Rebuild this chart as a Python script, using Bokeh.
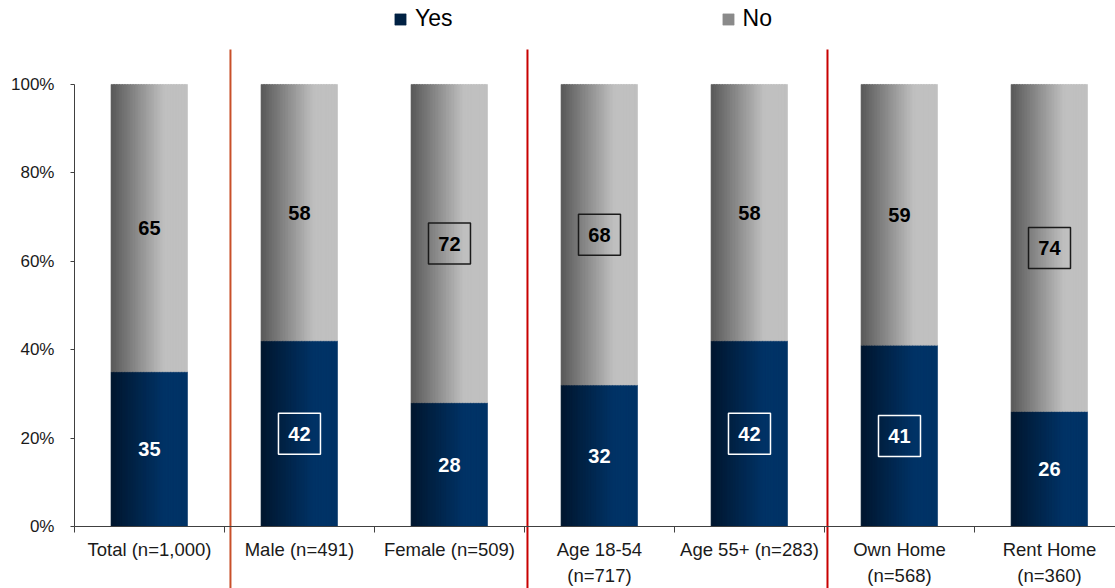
from bokeh.plotting import figure
from bokeh.models import Range1d, FixedTicker, Legend, LegendItem
from bokeh.core.properties import value
from bokeh.embed import file_html
from bokeh.resources import INLINE

# ---- data ----
categories = ["Total (n=1,000)", "Male (n=491)", "Female (n=509)", "Age 18-54\n(n=717)",
              "Age 55+ (n=283)", "Own Home\n(n=568)", "Rent Home\n(n=360)"]
yes_values = [35, 42, 28, 32, 42, 41, 26]
no_values = [65, 58, 72, 68, 58, 59, 74]
yes_boxed = [False, True, False, False, True, True, False]
no_boxed = [False, False, True, True, False, False, True]
y_ticks = [0, 20, 40, 60, 80, 100]
y_tick_labels = ["0%", "20%", "40%", "60%", "80%", "100%"]
separators = [0.54, 2.52, 4.52]
separator_colors = ["#C8502A", "#C80000", "#C80000"]

FONT = "Liberation Sans"
W, H = 1115, 588
n = len(categories)
xs = list(range(n))

p = figure(width=W, height=H, output_backend="svg", toolbar_location=None,
           x_range=Range1d(-0.993, 6.44), y_range=Range1d(-14.03, 119.0),
           min_border=0, min_border_left=0, min_border_right=0,
           min_border_top=0, min_border_bottom=0)
p.outline_line_color = None
p.grid.visible = False
p.background_fill_color = "white"
p.border_fill_color = "white"

# ---- gradient bars as thin strips ----
def lerp(c1, c2, t):
    return "#%02x%02x%02x" % tuple(int(round(a + (b - a) * t)) for a, b in zip(c1, c2))

bar_w = 0.507
N = 28
yes_l, yes_r = (0, 22, 46), (0, 51, 102)
no_l, no_r = (88, 88, 88), (192, 192, 192)
yes_rends, no_rends = [], []
for k in range(N):
    t = (k + 0.5) / N
    f = min(t / 0.7, 1.0)
    off = -bar_w / 2 + (k + 0.5) * bar_w / N
    sx = [x + off for x in xs]
    sw = bar_w / N * (1.3 if k < N - 1 else 1.0)
    cy = lerp(yes_l, yes_r, f)
    cn = lerp(no_l, no_r, f)
    r1 = p.vbar(x=sx, width=sw, bottom=0, top=yes_values,
                fill_color=cy, line_color=cy, line_width=0.6)
    r2 = p.vbar(x=sx, width=sw, bottom=yes_values,
                top=[y + v for y, v in zip(yes_values, no_values)],
                fill_color=cn, line_color=cn, line_width=0.6)
    yes_rends.append(r1)
    no_rends.append(r2)

# ---- separators ----
for sxv, sc in zip(separators, separator_colors):
    p.segment(x0=[sxv], y0=[107.9], x1=[sxv], y1=[-16], line_color=sc, line_width=2)

# ---- data labels ----
yes_mid = [v / 2 for v in yes_values]
no_mid = [y + v / 2 for y, v in zip(yes_values, no_values)]
p.text(x=xs, y=yes_mid, text=[str(v) for v in yes_values], text_align="center",
       text_baseline="middle", text_color="white", text_font=value(FONT),
       text_font_style="bold", text_font_size="20px")
p.text(x=xs, y=no_mid, text=[str(v) for v in no_values], text_align="center",
       text_baseline="middle", text_color="black", text_font=value(FONT),
       text_font_style="bold", text_font_size="20px")

bx = [x for x, b in zip(xs, yes_boxed) if b]
by = [m for m, b in zip(yes_mid, yes_boxed) if b]
p.rect(x=bx, y=by, width=42, height=41, width_units="screen", height_units="screen",
       fill_color=None, line_color="white", line_width=1.5)
bx = [x for x, b in zip(xs, no_boxed) if b]
by = [m for m, b in zip(no_mid, no_boxed) if b]
p.rect(x=bx, y=by, width=42, height=41, width_units="screen", height_units="screen",
       fill_color=None, line_color="#1a1a1a", line_width=1.5)

# ---- axes ----
xa = p.xaxis[0]
xa.fixed_location = 0
xa.bounds = (-0.5, 7.0)
xa.ticker = FixedTicker(ticks=xs, minor_ticks=[x - 0.5 for x in xs] + [n - 0.5])
xa.major_label_overrides = {i: c for i, c in enumerate(categories)}
xa.major_tick_out = 0
xa.major_tick_in = 0
xa.minor_tick_out = 6
xa.minor_tick_in = 0
xa.minor_tick_line_color = "#404040"
xa.axis_line_color = "#404040"
xa.major_label_text_font = FONT
xa.major_label_text_font_size = "18.5px"
xa.major_label_text_color = "#1a1a1a"
xa.major_label_standoff = 7

ya = p.yaxis[0]
ya.fixed_location = -0.5
ya.bounds = (0, 100)
ya.ticker = FixedTicker(ticks=y_ticks)
ya.major_label_overrides = {t: l for t, l in zip(y_ticks, y_tick_labels)}
ya.minor_tick_out = 0
ya.minor_tick_in = 0
ya.major_tick_out = 4
ya.major_tick_in = 0
ya.major_tick_line_color = "#404040"
ya.axis_line_color = "#404040"
ya.major_label_text_font = FONT
ya.major_label_text_font_size = "17px"
ya.major_label_text_color = "#1a1a1a"
ya.major_label_standoff = 16

# ---- legend ----
legend = Legend(items=[LegendItem(label="Yes", renderers=[yes_rends[N // 4]]),
                       LegendItem(label="No", renderers=[no_rends[N // 3]])],
                orientation="horizontal", location=(393, 556),
                glyph_width=14, glyph_height=14, label_standoff=8, spacing=268,
                padding=0, margin=0, border_line_color=None,
                background_fill_alpha=0,
                label_text_font=FONT, label_text_font_size="23px",
                label_text_color="black")
p.add_layout(legend, "center")

open("out.html", "w").write(file_html(p, INLINE))
